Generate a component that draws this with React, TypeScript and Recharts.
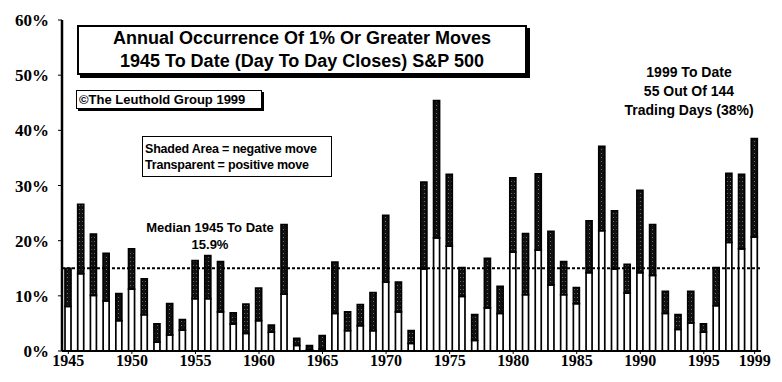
import { ComposedChart, Bar, XAxis, YAxis, ReferenceLine } from 'recharts';

const years = [
  1945, 1946, 1947, 1948, 1949, 1950, 1951, 1952, 1953, 1954,
  1955, 1956, 1957, 1958, 1959, 1960, 1961, 1962, 1963, 1964,
  1965, 1966, 1967, 1968, 1969, 1970, 1971, 1972, 1973, 1974,
  1975, 1976, 1977, 1978, 1979, 1980, 1981, 1982, 1983, 1984,
  1985, 1986, 1987, 1988, 1989, 1990, 1991, 1992, 1993, 1994,
  1995, 1996, 1997, 1998, 1999,
];

// % of trading days with a 1%+ up move (transparent part)
const positiveMoves = [
  8.1, 14.0, 10.1, 9.1, 5.5, 11.2, 6.6, 1.6, 2.9, 3.8,
  9.5, 9.5, 7.1, 4.9, 3.2, 5.5, 3.4, 10.3, 1.0, 0.2,
  0.4, 6.8, 3.7, 4.6, 3.7, 12.5, 7.1, 1.4, 14.9, 20.5,
  19.0, 9.9, 1.9, 7.8, 6.8, 17.9, 10.2, 18.3, 12.0, 10.2,
  8.6, 14.2, 21.8, 14.9, 10.5, 14.2, 13.7, 6.8, 3.9, 5.1,
  3.4, 8.2, 19.7, 18.5, 20.7,
];

// % of trading days with a 1%+ down move (shaded part)
const negativeMoves = [
  6.9, 12.6, 11.1, 8.6, 4.9, 7.3, 6.5, 3.3, 5.7, 1.9,
  6.9, 7.8, 9.1, 2.0, 5.3, 5.9, 1.3, 12.6, 1.3, 0.8,
  2.4, 9.3, 3.4, 3.8, 6.9, 12.1, 5.4, 2.3, 15.7, 24.9,
  13.0, 5.2, 4.7, 9.0, 4.9, 13.5, 11.1, 13.8, 9.7, 6.0,
  2.9, 9.4, 15.3, 10.5, 5.2, 14.9, 9.2, 4.0, 2.7, 5.7,
  1.5, 6.9, 12.5, 13.5, 17.8,
];

const labelYears = [1945, 1950, 1955, 1960, 1965, 1970, 1975, 1980, 1985, 1990, 1995, 1999];
const yTicks = [0, 10, 20, 30, 40, 50, 60];
const medianLine = 15;

const serif = '"Liberation Serif", "Times New Roman", serif';
const sans = '"Liberation Sans", Arial, sans-serif';

const data = years.map((y, i) => ({
  year: String(y),
  positive: positiveMoves[i],
  negative: negativeMoves[i],
}));

function YearTick(props: any) {
  const { x, y, payload } = props;
  if (!labelYears.includes(Number(payload.value))) return null;
  return (
    <g>
      <line x1={x} x2={x} y1={y - 8} y2={y - 5} stroke="#000" strokeWidth={1} />
      <text x={x} y={y + 7} textAnchor="middle" fontFamily={serif} fontWeight="bold" fontSize={16} fill="#000">
        {payload.value}
      </text>
    </g>
  );
}

function PctTick(props: any) {
  const { x, y, payload } = props;
  return (
    <text x={x} y={y} dy={6} textAnchor="end" fontFamily={serif} fontWeight="bold" fontSize={17} fill="#000">
      {payload.value}%
    </text>
  );
}

export default function App() {
  return (
    <div style={{ position: 'absolute', left: 0, top: 0, width: 782, height: 382, background: '#fff' }}>
      <ComposedChart
        width={782}
        height={382}
        data={data}
        margin={{ top: 20, right: 21, left: 0, bottom: 0 }}
        barCategoryGap={0}
      >
        <defs>
          <pattern id="stipple" width={3} height={4} patternUnits="userSpaceOnUse">
            <rect width={3} height={4} fill="#111" />
            <rect x={1} y={1} width={1} height={1} fill="#6a6a6a" />
          </pattern>
        </defs>
        <XAxis
          dataKey="year"
          interval={0}
          height={31}
          tickLine={false}
          tick={<YearTick />}
          axisLine={{ stroke: '#000', strokeWidth: 2 }}
        />
        <XAxis xAxisId="top" dataKey="year" orientation="top" height={0} tick={false} tickLine={false} axisLine={{ stroke: '#000', strokeWidth: 1.5 }} />
        <YAxis
          domain={[0, 60]}
          ticks={yTicks}
          width={62}
          tickSize={4}
          tickMargin={9}
          tickLine={{ stroke: '#000' }}
          tick={<PctTick />}
          axisLine={{ stroke: '#000', strokeWidth: 2.5 }}
        />
        <YAxis yAxisId="right" orientation="right" domain={[0, 60]} width={0} tick={false} tickLine={false} axisLine={{ stroke: '#000', strokeWidth: 1.5 }} />
        <ReferenceLine y={medianLine} stroke="#000" strokeWidth={2} strokeDasharray="3 2" />
        <Bar dataKey="positive" stackId="a" barSize={6} fill="#fff" stroke="#000" strokeWidth={1.7} isAnimationActive={false} />
        <Bar dataKey="negative" stackId="a" barSize={6} fill="url(#stipple)" stroke="#000" strokeWidth={1.7} isAnimationActive={false} />
      </ComposedChart>

      <div
        style={{
          position: 'absolute', left: 77, top: 25, width: 446, height: 46,
          border: '2px solid #000', boxShadow: '3px 3px 0 #000', background: '#fff',
          fontFamily: sans, fontWeight: 'bold', fontSize: 18, lineHeight: '23px', textAlign: 'center',
        }}
      >
        <div>Annual Occurrence Of 1% Or Greater Moves</div>
        <div>1945 To Date (Day To Day Closes) S&amp;P 500</div>
      </div>

      <div
        style={{
          position: 'absolute', left: 76, top: 90, width: 182, height: 17,
          border: '1.5px solid #000', boxShadow: '2px 2px 0 #000', background: '#fff',
          fontFamily: sans, fontWeight: 'bold', fontSize: 13, lineHeight: '17px', paddingLeft: 2,
          whiteSpace: 'nowrap',
        }}
      >
        ©The Leuthold Group 1999
      </div>

      <div
        style={{
          position: 'absolute', left: 142, top: 136, width: 186, height: 35,
          border: '1.5px solid #000', background: '#fff', padding: '4px 0 0 2px',
          fontFamily: sans, fontWeight: 'bold', fontSize: 12.5, lineHeight: '16px',
          whiteSpace: 'nowrap', letterSpacing: -0.2,
        }}
      >
        <div>Shaded Area = negative move</div>
        <div>Transparent = positive move</div>
      </div>

      <div
        style={{
          position: 'absolute', left: 130, top: 219, width: 160, textAlign: 'center',
          fontFamily: sans, fontWeight: 'bold', fontSize: 13, lineHeight: '17px',
        }}
      >
        <div>Median 1945 To Date</div>
        <div>15.9%</div>
      </div>

      <div
        style={{
          position: 'absolute', left: 614, top: 63, width: 150, textAlign: 'center',
          fontFamily: sans, fontWeight: 'bold', fontSize: 14, lineHeight: '19px',
        }}
      >
        <div>1999 To Date</div>
        <div>55 Out Of 144</div>
        <div>Trading Days (38%)</div>
      </div>
    </div>
  );
}
